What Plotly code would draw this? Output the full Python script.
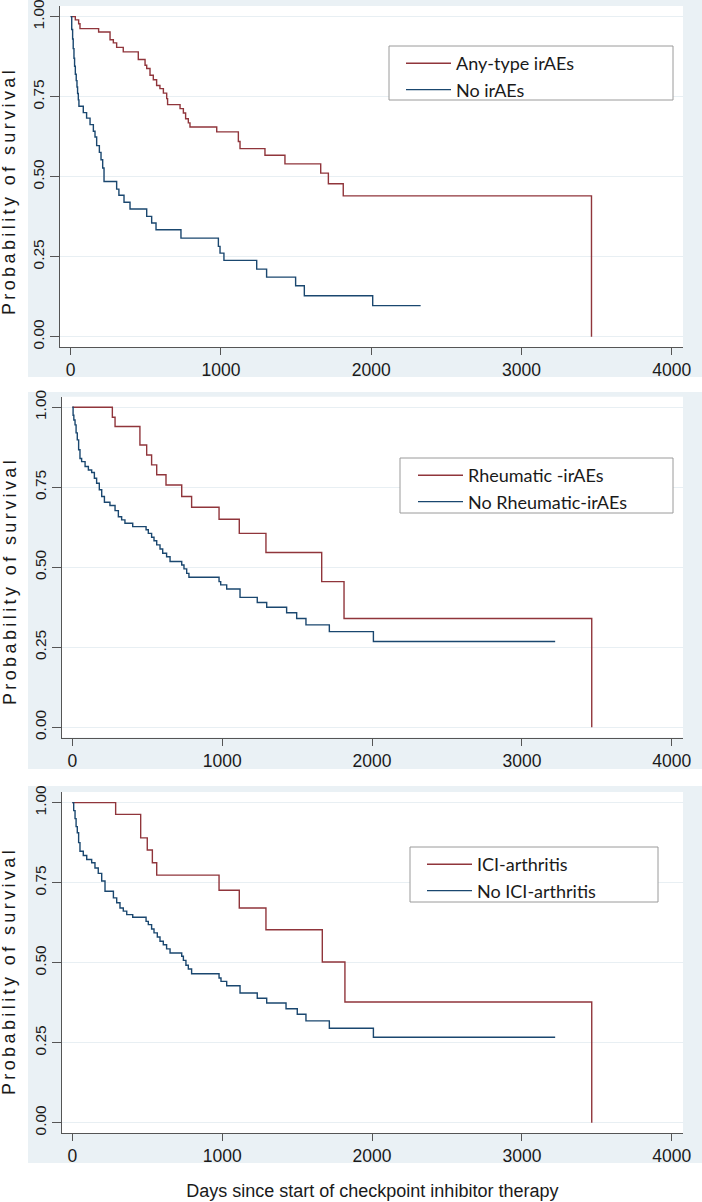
import plotly.graph_objects as go

W, H = 702, 1202

# ---------------- data (days, survival probability) ----------------
# Panel 1: any-type irAEs vs no irAEs
any_t = [0, 31, 53, 62, 186, 262, 284, 306, 350, 450, 495, 506, 528, 550, 572, 594, 617,
         639, 645, 728, 750, 765, 783, 794, 972, 1116, 1127, 1293, 1426, 1664, 1715, 1814, 3466]
any_s = [1.0, 0.99, 0.978, 0.9625, 0.952, 0.928, 0.918, 0.904, 0.89, 0.866, 0.848, 0.838,
         0.817, 0.803, 0.785, 0.775, 0.761, 0.744, 0.725, 0.7125, 0.699, 0.681, 0.668, 0.655,
         0.64, 0.61, 0.5875, 0.567, 0.54, 0.511, 0.478, 0.44, 0.0]
noany_t = [0, 7, 13, 17, 22, 26, 31, 37, 42, 46, 51, 55, 84, 106, 129, 151, 162, 173, 191,
           202, 213, 222, 306, 321, 355, 395, 506, 539, 568, 734, 983, 994, 1020, 1238, 1304,
           1497, 1555, 2010, 2329]
noany_s = [1.0, 0.96, 0.93, 0.90, 0.87, 0.845, 0.82, 0.80, 0.78, 0.76, 0.74, 0.72, 0.70,
           0.683, 0.6625, 0.642, 0.624, 0.597, 0.576, 0.553, 0.527, 0.485, 0.461, 0.4417,
           0.42, 0.399, 0.376, 0.355, 0.334, 0.308, 0.282, 0.261, 0.2385, 0.211, 0.186,
           0.159, 0.128, 0.097, 0.097]

# Panel 2: rheumatic irAEs vs no rheumatic irAEs
rh_t = [0, 267, 285, 451, 496, 529, 563, 625, 730, 796, 979, 1114, 1292, 1664, 1813, 3466]
rh_s = [1.0, 0.969, 0.94, 0.882, 0.851, 0.82, 0.789, 0.757, 0.721, 0.6875, 0.65, 0.606,
        0.546, 0.455, 0.34, 0.0]
norh_t = [0, 5, 10, 18, 25, 33, 42, 51, 62, 85, 107, 129, 147, 162, 180, 196, 214, 251, 285,
          307, 329, 351, 403, 492, 507, 529, 545, 563, 585, 603, 629, 652, 730, 745, 763, 778,
          979, 990, 1030, 1119, 1234, 1297, 1430, 1497, 1559, 1715, 2009, 3222]
norh_s = [1.0, 0.975, 0.96, 0.945, 0.92, 0.898, 0.867, 0.84, 0.83, 0.815, 0.804, 0.796,
          0.778, 0.7625, 0.742, 0.721, 0.703, 0.693, 0.677, 0.658, 0.648, 0.6375, 0.627,
          0.617, 0.606, 0.594, 0.583, 0.57, 0.557, 0.544, 0.533, 0.518, 0.507, 0.495, 0.481,
          0.469, 0.455, 0.445, 0.432, 0.406, 0.39, 0.375, 0.358, 0.34, 0.32, 0.299, 0.268,
          0.268]

# Panel 3: ICI-arthritis vs no ICI-arthritis
art_t = [0, 289, 456, 500, 534, 563, 979, 1114, 1292, 1668, 1819, 3466]
art_s = [1.0, 0.9635, 0.89, 0.852, 0.812, 0.7735, 0.7265, 0.671, 0.603, 0.502, 0.377, 0.0]
noart_t = [0, 9, 18, 25, 33, 42, 51, 73, 96, 129, 151, 173, 196, 218, 274, 296, 318, 340,
           363, 403, 492, 507, 529, 545, 567, 585, 607, 629, 652, 730, 741, 758, 774, 796,
           979, 992, 1030, 1119, 1234, 1297, 1426, 1501, 1559, 1715, 2009, 3222]
noart_s = [1.0, 0.975, 0.95, 0.925, 0.906, 0.875, 0.848, 0.835, 0.8225, 0.812, 0.796, 0.779,
           0.755, 0.723, 0.7025, 0.687, 0.671, 0.661, 0.65, 0.642, 0.629, 0.619, 0.605,
           0.593, 0.58, 0.567, 0.556, 0.543, 0.53, 0.52, 0.507, 0.492, 0.48, 0.4655, 0.452,
           0.4415, 0.428, 0.405, 0.389, 0.374, 0.356, 0.339, 0.318, 0.295, 0.267, 0.267]

series_names = [("Any-type irAEs", "No irAEs"),
                ("Rheumatic -irAEs", "No Rheumatic-irAEs"),
                ("ICI-arthritis", "No ICI-arthritis")]

x_ticks = [0, 1000, 2000, 3000, 4000]
y_ticks = [0, 0.25, 0.5, 0.75, 1.0]
y_title = "Probability of survival"
x_title = "Days since start of checkpoint inhibitor therapy"

# ---------------- style ----------------
RED = "#90353B"
BLUE = "#1A476F"
PANEL_BG = "#EAF1F5"
AXC = "#555555"
TXT = "#1a1a1a"
ARIAL = "Liberation Sans, Arial, sans-serif"
LEG_FONT = "Lato, Carlito, sans-serif"


def fy(p):
    return 1 - p / H


def fx(p):
    return p / W


panels = [
    dict(red=(any_t, any_s), blue=(noany_t, noany_s), names=series_names[0],
         xdom=(60, 683), ydom=(6.1, 346.9), bg=(0, 377), title_c=191.5,
         leg_box=(389, 46, 673, 100), leg_xy=(401, 45)),
    dict(red=(rh_t, rh_s), blue=(norh_t, norh_s), names=series_names[1],
         xdom=(61.7, 683), ydom=(396.7, 737.5), bg=(392, 769), title_c=581.5,
         leg_box=(400, 458, 673, 513), leg_xy=(413, 457)),
    dict(red=(art_t, art_s), blue=(noart_t, noart_s), names=series_names[2],
         xdom=(61.7, 683), ydom=(792.1, 1132.9), bg=(786, 1163), title_c=971.5,
         leg_box=(410, 847, 658, 902), leg_xy=(422, 846)),
]

fig = go.Figure()
shapes = []
annotations = []
layout = {}

for i, p in enumerate(panels):
    k = "" if i == 0 else str(i + 1)
    xa, ya, lg = "x" + k, "y" + k, "legend" + k
    for (t, s), nm, col in [(p["red"], p["names"][0], RED), (p["blue"], p["names"][1], BLUE)]:
        fig.add_trace(go.Scatter(x=t, y=s, mode="lines", name=nm,
                                 line=dict(shape="hv", color=col, width=1.4),
                                 xaxis=xa, yaxis=ya, legend=lg, hoverinfo="skip"))
    layout["xaxis" + k] = dict(
        domain=[fx(p["xdom"][0]), fx(p["xdom"][1])], range=[-71, 4075], anchor=ya,
        tickmode="array", tickvals=x_ticks, ticks="outside", ticklen=7, tickcolor=AXC,
        tickwidth=1, showline=True, linecolor=AXC, linewidth=1, showgrid=False,
        zeroline=False, tickfont=dict(family=ARIAL, size=17.5, color=TXT),
        ticklabeloverflow="allow", automargin=False)
    layout["yaxis" + k] = dict(
        domain=[fy(p["ydom"][1]), fy(p["ydom"][0])], range=[-0.032, 1.033], anchor=xa,
        tickmode="array", tickvals=y_ticks, tickformat=".2f", tickangle=-90,
        ticks="outside", ticklen=9, tickcolor=AXC, tickwidth=1, showline=True,
        linecolor=AXC, linewidth=1, showgrid=True, gridcolor="#E8EFF3", gridwidth=1,
        zeroline=False, tickfont=dict(family=ARIAL, size=15.5, color=TXT),
        ticklabeloverflow="allow", automargin=False)
    layout[lg] = dict(
        x=fx(p["leg_xy"][0]), y=fy(p["leg_xy"][1]), xanchor="left", yanchor="top",
        bgcolor="rgba(0,0,0,0)", borderwidth=0, tracegroupgap=0, itemwidth=45,
        font=dict(family=LEG_FONT, size=18, color=TXT))
    # light graph-region panel
    shapes.append(dict(type="rect", xref="paper", yref="paper", layer="below",
                       x0=fx(28), x1=1, y0=fy(p["bg"][1]), y1=fy(p["bg"][0]),
                       fillcolor=PANEL_BG, line=dict(width=0)))
    shapes.append(dict(type="rect", xref=xa + " domain", yref=ya + " domain", layer="below",
                       x0=0, x1=1, y0=0, y1=1, fillcolor="white", line=dict(width=0)))
    # legend frame
    bx0, by0, bx1, by1 = p["leg_box"]
    shapes.append(dict(type="rect", xref="paper", yref="paper", layer="above",
                       x0=fx(bx0), x1=fx(bx1), y0=fy(by1), y1=fy(by0),
                       fillcolor="white", line=dict(color="#9a9a9a", width=1)))
    annotations.append(dict(text=y_title, xref="paper", yref="paper", x=fx(9.5),
                            y=fy(p["title_c"]), xanchor="center", yanchor="middle",
                            textangle=-90, showarrow=False,
                            font=dict(family=ARIAL, size=18, color=TXT)))

layout["xaxis3"]["title"] = dict(text=x_title, standoff=19,
                                 font=dict(family=ARIAL, size=18, color=TXT))

fig.update_layout(
    width=W, height=H, margin=dict(l=0, r=0, t=0, b=0),
    paper_bgcolor="white", plot_bgcolor="white", showlegend=True, hovermode=False,
    shapes=shapes, annotations=annotations, **layout)

post = """
document.body.style.margin = '0';
document.body.style.padding = '0';
var gd = document.getElementById('{plot_id}');
gd.querySelectorAll('text.annotation-text').forEach(function(e){
  if (e.textContent === 'Probability of survival') {
    e.setAttribute('letter-spacing', '3.4px');
    e.style.letterSpacing = '3.4px';
  }
});
"""
fig.write_html("out.html", post_script=post, config={"displayModeBar": False})
